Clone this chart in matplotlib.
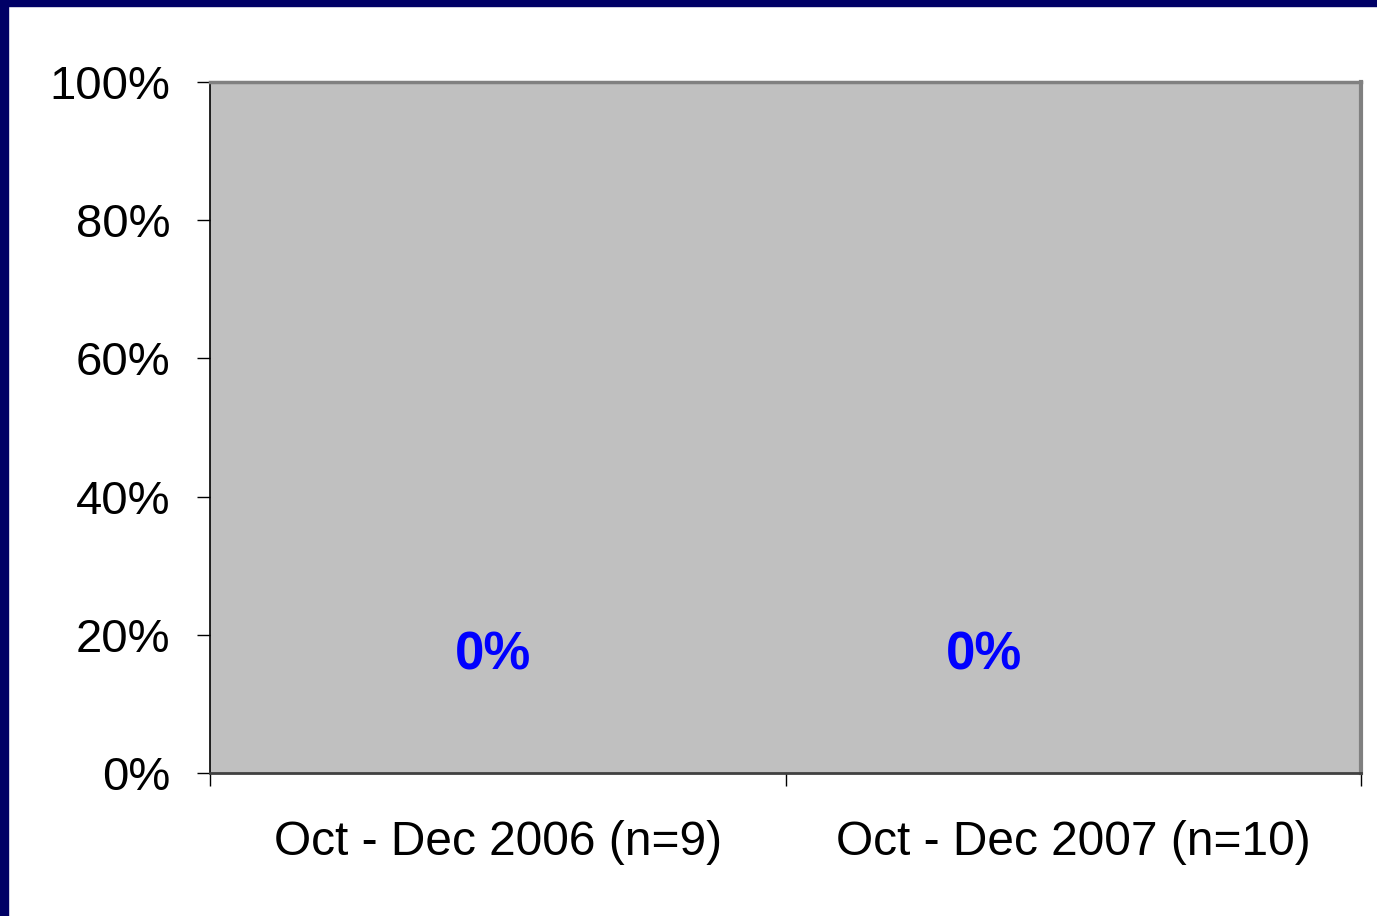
import matplotlib.pyplot as plt
from matplotlib.patches import Rectangle

# Data
categories = ['Oct - Dec 2006 (n=9)', 'Oct - Dec 2007 (n=10)']
values = [0, 0]
y_ticks = [0, 20, 40, 60, 80, 100]

plt.rcParams['font.family'] = ['Liberation Sans', 'DejaVu Sans']

fig = plt.figure(figsize=(13.77, 9.16), dpi=100)
ax = fig.add_axes([210 / 1377, 1 - 773 / 916, (1361 - 210) / 1377, (773 - 82) / 916])
ax.set_facecolor('#C0C0C0')

x = list(range(len(categories)))
bars = ax.bar(x, values, width=0.6, color='#9999FF')

# data labels (Excel placed them a bit oddly)
label_dx = [-5, -89]
for xi, v, dx in zip(x, values, label_dx):
    ax.annotate(f'{v:.0f}%', (xi, v), xytext=(dx, 118), textcoords='offset pixels',
                ha='center', va='center', fontsize=38, fontweight='bold', color='#0000FF')

ax.set_xlim(-0.5, len(categories) - 0.5)
ax.set_ylim(0, 100)
ax.set_yticks(y_ticks)
ax.set_yticklabels([f'{t}%' for t in y_ticks])

ax.set_xticks([i - 0.5 for i in range(len(categories) + 1)])
ax.set_xticklabels([])
ax.set_xticks(x, minor=True)
ax.set_xticklabels(categories, minor=True)

ax.tick_params(axis='y', direction='out', length=9.5, width=1, color='black',
               labelsize=34, pad=19)
ax.tick_params(axis='x', which='major', direction='out', length=9.5, width=1, color='black')
ax.tick_params(axis='x', which='minor', length=0, labelsize=34.5, pad=34)

ax.spines['left'].set_color('black')
ax.spines['left'].set_linewidth(1.2)
ax.spines['bottom'].set_color('#404040')
ax.spines['bottom'].set_linewidth(2)
ax.spines['top'].set_color('#808080')
ax.spines['top'].set_linewidth(2.5)
ax.spines['right'].set_color('#808080')
ax.spines['right'].set_linewidth(3)

# navy frame on the left and top of the slide
fig.patches.append(Rectangle((0, 0), 8 / 1377, 1, transform=fig.transFigure,
                             color='#000066', zorder=10))
fig.patches.append(Rectangle((0, 1 - 6 / 916), 1, 6 / 916, transform=fig.transFigure,
                             color='#000066', zorder=10))

fig.savefig('out.png', dpi=100)
